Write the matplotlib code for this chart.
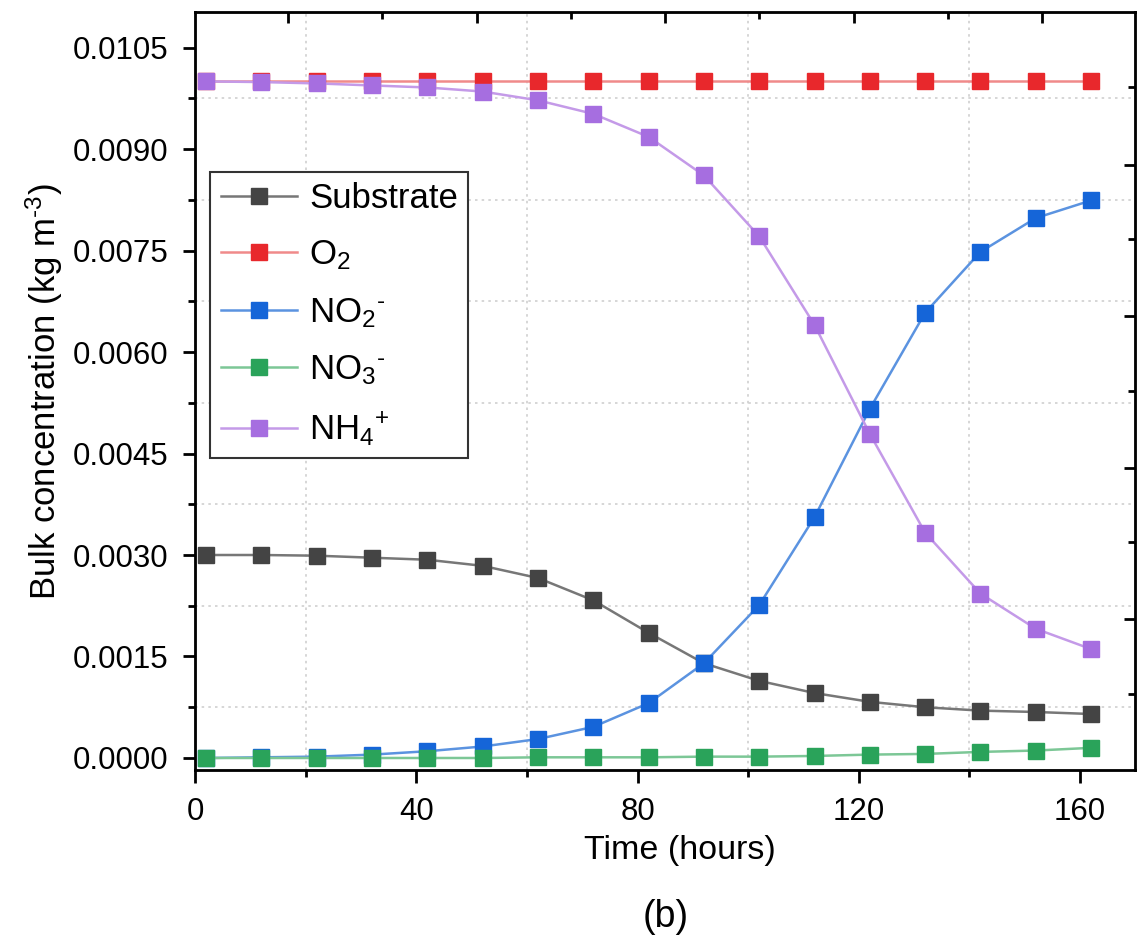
import matplotlib
matplotlib.use('Agg')
import matplotlib.pyplot as plt
import numpy as np

# Datos
tiempo = [2, 12, 22, 32, 42, 52, 62, 72, 82, 92, 102, 112, 122, 132, 142, 152, 162]
substrate = [0.00300, 0.00300, 0.00299, 0.00296, 0.00293, 0.00284, 0.00266, 0.00233, 0.00185,
             0.00140, 0.00114, 0.00096, 0.00083, 0.00075, 0.00070, 0.00068, 0.00065]
o2 = [0.0100] * 17
no2 = [0.00000, 0.00001, 0.00002, 0.00005, 0.00010, 0.00017, 0.00028, 0.00046, 0.00081,
       0.00140, 0.00226, 0.00356, 0.00516, 0.00658, 0.00748, 0.00798, 0.00824]
no3 = [0.00000, 0.00000, 0.00000, 0.00000, 0.00000, 0.00000, 0.00001, 0.00001, 0.00001,
       0.00002, 0.00002, 0.00003, 0.00005, 0.00006, 0.00009, 0.00011, 0.00015]
nh4 = [0.01000, 0.00999, 0.00997, 0.00994, 0.00991, 0.00985, 0.00972, 0.00952, 0.00918,
       0.00861, 0.00771, 0.00640, 0.00479, 0.00333, 0.00243, 0.00191, 0.00161]

guion = '\u2010'
series = [
    (substrate, 'Substrate', '#444444', '#777777'),
    (o2, 'O$_2$', '#e8282c', '#f08a8a'),
    (no2, 'NO$_2$$^{' + guion + '}$', '#1565d8', '#5b93e0'),
    (no3, 'NO$_3$$^{' + guion + '}$', '#2aa35a', '#7cc796'),
    (nh4, 'NH$_4$$^{+}$', '#a66ee0', '#c49ae8'),
]

plt.rcParams['font.family'] = ['Liberation Sans', 'DejaVu Sans']
plt.rcParams['mathtext.default'] = 'regular'

fig = plt.figure(figsize=(11.41, 9.52), dpi=100)
ax = fig.add_axes([0.171, 0.191, 0.824, 0.796])

for datos, nombre, cmark, cline in series:
    ax.plot(tiempo, datos, color=cline, lw=1.8, marker='s', markersize=11,
            markerfacecolor=cmark, markeredgecolor=cmark, label=nombre)

ax.set_xlim(0, 170)
ax.set_ylim(-0.00018, 0.01102)
ax.set_xticks([0, 40, 80, 120, 160])
ax.set_xticks([20, 60, 100, 140], minor=True)
ax.set_yticks(np.arange(0, 0.0106, 0.0015))
ax.set_yticks(np.arange(0.00075, 0.0110, 0.0015), minor=True)
ax.yaxis.set_major_formatter(matplotlib.ticker.FormatStrFormatter('%.4f'))
ax.grid(which='minor', color='#cfcfcf', linestyle=(0, (1.5, 2.5)), lw=1.2)
ax.tick_params(which='major', direction='out', length=9, width=2, labelsize=22.5, pad=10)
ax.tick_params(which='minor', direction='out', length=5, width=2)
for s in ax.spines.values():
    s.set_linewidth(2)

# ejes superior y derecho con ticks hacia dentro
top = ax.twiny()
top.set_xlim(0, 170)
top.set_xticks(np.arange(16.8, 170, 34.1))
top.set_xticks(np.arange(33.85, 170, 34.1), minor=True)
top.tick_params(which='major', direction='in', length=8, width=2, labeltop=False)
top.tick_params(which='minor', direction='in', length=5, width=2)
der = ax.twinx()
der.set_ylim(-0.00018, 0.01102)
der.set_yticks(np.arange(0.00877, 0.0, -0.00224))
der.set_yticks(np.arange(0.00991, 0.0, -0.00224), minor=True)
der.tick_params(which='major', direction='in', length=8, width=2, labelright=False)
der.tick_params(which='minor', direction='in', length=5, width=2)

ax.set_xlabel('Time (hours)', fontsize=24.5)
ax.xaxis.set_label_coords(0.516, -0.085)
ax.set_ylabel('Bulk concentration (kg m$^{' + guion + '3}$)', fontsize=25, labelpad=6)
fig.text(0.583, 0.026, '(b)', fontsize=27, ha='center')

leg = ax.legend(loc='upper left', bbox_to_anchor=(0.016, 0.79), borderaxespad=0,
                fontsize=25, labelspacing=0.68, handlelength=2.2, handletextpad=0.35,
                borderpad=0.3, fancybox=False, edgecolor='#333333', framealpha=1)
leg.get_frame().set_linewidth(1.5)

plt.savefig('out.png', dpi=100)
